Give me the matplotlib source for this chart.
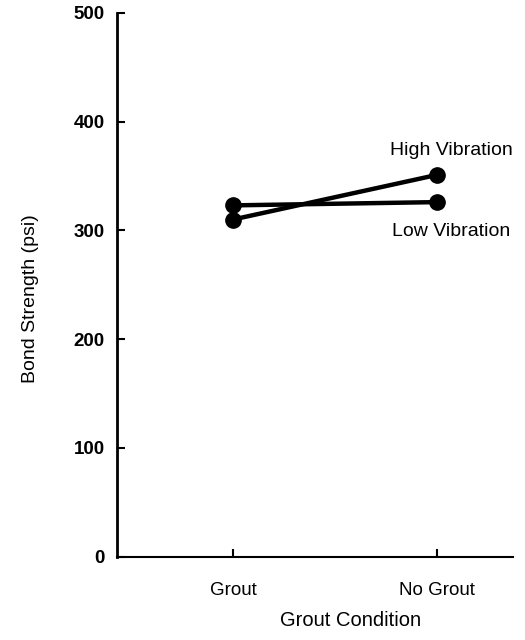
import numpy as np
import matplotlib.pyplot as plt

plt.rcParams['font.family'] = ['Liberation Sans', 'DejaVu Sans']

conditions = ['Grout', 'No Grout']
high_vibration = [310, 351]
low_vibration = [323, 326]

x = np.arange(len(conditions))

fig = plt.figure(figsize=(5.25, 6.4), dpi=100)
ax = fig.add_axes([0.223, 0.130, 0.754, 0.850])

ax.plot(x, high_vibration, color='black', lw=3.2, marker='o', ms=11,
        solid_capstyle='round')
ax.plot(x, low_vibration, color='black', lw=3.2, marker='o', ms=11,
        solid_capstyle='round')

# series names sit beside the right-hand points
ax.text(x[1] + 0.07, high_vibration[1] + 22, 'High Vibration',
        ha='center', va='center', fontsize=14)
ax.text(x[1] + 0.07, low_vibration[1] - 27, 'Low Vibration',
        ha='center', va='center', fontsize=14)

ax.set_xlim(-0.569, 1.373)
ax.set_ylim(0, 500)
ax.set_xticks(x)
ax.set_xticklabels(conditions)
ax.set_yticks(np.arange(0, 501, 100))

ax.spines['top'].set_visible(False)
ax.spines['right'].set_visible(False)
ax.spines['left'].set_linewidth(2)
ax.spines['bottom'].set_linewidth(1.5)
ax.tick_params(direction='in', length=6, width=1.5)
ax.tick_params(axis='x', labelsize=13.5, pad=18)
ax.tick_params(axis='y', labelsize=13.5, pad=9)
for lab in ax.get_yticklabels():
    lab.set_fontweight('bold')

ax.set_ylabel('Bond Strength (psi)', fontsize=14)
ax.yaxis.set_label_coords(-0.197, 0.475)
ax.set_xlabel('Grout Condition', fontsize=14.5)
ax.xaxis.set_label_coords(0.59, -0.10)

fig.savefig('out.png', dpi=100)
